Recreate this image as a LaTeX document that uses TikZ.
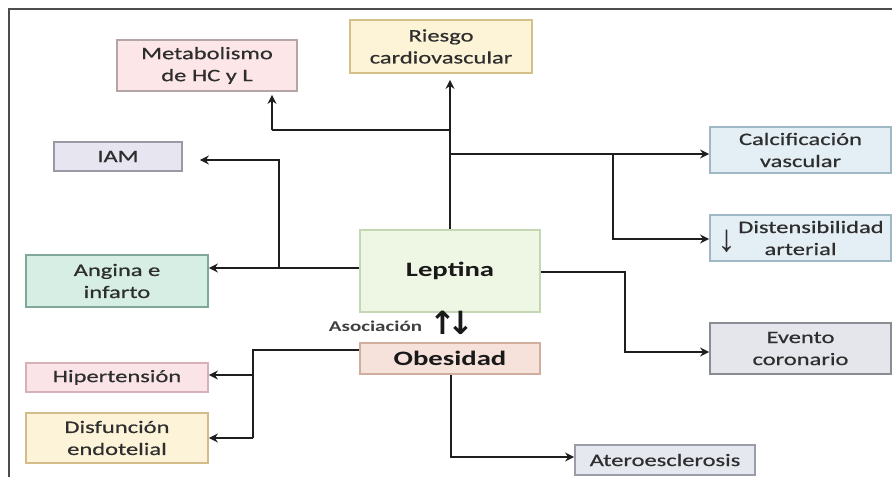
\documentclass[tikz,border=0pt]{standalone}
\usepackage{fontspec}
\setmainfont{Carlito}[FakeStretch=1.4]
\newfontfamily\boxfont{Carlito}[FakeStretch=1.4, FakeBold=0.6]
\newfontfamily\arrowfont{DejaVu Sans}
\newfontfamily\thinarrow{Liberation Sans}
\usetikzlibrary{arrows.meta,calc}
\definecolor{txt}{HTML}{2E2E2E}
\definecolor{ln}{HTML}{1E1E1E}
\definecolor{metaF}{HTML}{FCE6E8}\definecolor{metaD}{HTML}{B4A6A8}
\definecolor{riesF}{HTML}{FDF3D6}\definecolor{riesD}{HTML}{D6C08A}
\definecolor{iamF}{HTML}{E7E5F0}\definecolor{iamD}{HTML}{9A9AA6}
\definecolor{bluF}{HTML}{E3EFF5}\definecolor{bluD}{HTML}{9FB8C4}
\definecolor{lepF}{HTML}{EEF6E4}\definecolor{lepD}{HTML}{C5D6B4}
\definecolor{angF}{HTML}{D6EEE4}\definecolor{angD}{HTML}{7FA898}
\definecolor{evF}{HTML}{E5E6EC}\definecolor{evD}{HTML}{8A8C94}
\definecolor{obF}{HTML}{F6E2DA}\definecolor{obD}{HTML}{CFAE9E}
\definecolor{hiF}{HTML}{FBE4E8}\definecolor{hiD}{HTML}{D8B0B8}
\definecolor{diF}{HTML}{FCF3D8}\definecolor{diD}{HTML}{D4BC88}
\definecolor{atF}{HTML}{E5E8EF}\definecolor{atD}{HTML}{9A9EA8}
\tikzset{
  box/.style={draw, line width=1.8pt, inner sep=0pt, align=center, text=txt,
    font=\boxfont\fontsize{17.5}{22}\selectfont},
  conn/.style={line width=2.4pt, draw=ln, -{Stealth[length=9pt,width=9pt,inset=3pt]}},
  seg/.style={line width=2.4pt, draw=ln},
}
\begin{document}
\begin{tikzpicture}[x=1pt,y=-1pt]
\useasboundingbox (0,0) rectangle (892,477);
\fill[white] (0,0) rectangle (892,477);
% frame
\draw[line width=2pt, draw=black!70] (9,477) -- (9,9) -- (892,9);

% nodes
\node[box, fill=metaF, draw=metaD, minimum width=180, minimum height=51] (meta) at (207,65.5) {Metabolismo\\de HC y L};
\node[box, fill=riesF, draw=riesD, minimum width=182, minimum height=53] (riesgo) at (441,46.5) {Riesgo\\cardiovascular};
\node[box, fill=iamF, draw=iamD, minimum width=128, minimum height=29] (iam) at (118,156.5) {IAM};
\node[box, fill=bluF, draw=bluD, minimum width=181, minimum height=46] (calc) at (800.5,150) {Calcificación\\vascular};
\node[box, fill=bluF, draw=bluD, minimum width=181, minimum height=46] (dist) at (800.5,238) {\smash{\makebox[21pt][l]{\raisebox{-18pt}{\thinarrow\fontsize{38}{38}\selectfont ↓}}}Distensibilidad\\arterial};
\node[box, fill=lepF, draw=lepD, minimum width=180, minimum height=82, font=\fontsize{20.5}{22}\selectfont\bfseries, text=black!90] (lept) at (450,271) {Leptina};
\node[box, fill=angF, draw=angD, minimum width=182, minimum height=52] (angina) at (117,281) {Angina e\\infarto};
\node[box, fill=evF, draw=evD, minimum width=181, minimum height=51] (evento) at (800.5,348.5) {Evento\\coronario};
\node[box, fill=obF, draw=obD, minimum width=180, minimum height=31, font=\fontsize{20.5}{22}\selectfont\bfseries, text=black!90] (obes) at (450,358.5) {Obesidad};
\node[box, fill=hiF, draw=hiD, minimum width=182, minimum height=29] (hiper) at (117,377.5) {Hipertensión};
\node[box, fill=diF, draw=diD, minimum width=182, minimum height=50] (disf) at (117,438) {Disfunción\\endotelial};
\node[box, fill=atF, draw=atD, minimum width=180, minimum height=30] (atero) at (665,460) {Ateroesclerosis};

\node[text=black!75, font=\fontsize{15}{17}\selectfont\bfseries, inner sep=0pt] (asoc) at (375.5,326) {Asociación};
\node[text=black!90, font=\arrowfont\bfseries\fontsize{32}{32}\selectfont, inner sep=0pt] (ud) at (451.5,323) {↑\kern-9pt↓};

% junction coordinates
\coordinate (jm) at (450,130);
\coordinate (jm2) at (272,130);
\coordinate (jc) at (450,154);
\coordinate (jd) at (613,154);
\coordinate (jd2) at (613,239);
\coordinate (ja) at (279,268);
\coordinate (ja2) at (279,160);
\coordinate (je) at (625,272);
\coordinate (je2) at (625,352);
\coordinate (jo) at (253,350);
\coordinate (jh) at (253,375);
\coordinate (jdf) at (253,438);
\coordinate (jb) at (451,457);

% connectors
\draw[conn] (lept.north -| jm) -- ([yshift=-6pt]riesgo.south -| jm);
\draw[seg] (jm) -- (jm2);
\draw[conn] (jm2) -- ([yshift=-3pt]meta.south -| jm2);
\draw[conn] (jc) -- (calc.west |- jc);
\draw[conn] (jd) -- (jd2) -- (dist.west |- jd2);
\draw[conn] (lept.west |- ja) -- (angina.east |- ja);
\draw[conn] (ja) -- (ja2) -- ([xshift=17pt]iam.east |- ja2);
\draw[conn] (lept.east |- je) -- (je) -- (je2) -- (evento.west |- je2);
\draw[seg] (obes.west |- jo) -- (jo) -- (jdf);
\draw[conn] (jh) -- (hiper.east |- jh);
\draw[conn] (jdf) -- (disf.east |- jdf);
\draw[conn] (obes.south -| jb) -- (jb) -- (atero.west |- jb);
\end{tikzpicture}
\end{document}
